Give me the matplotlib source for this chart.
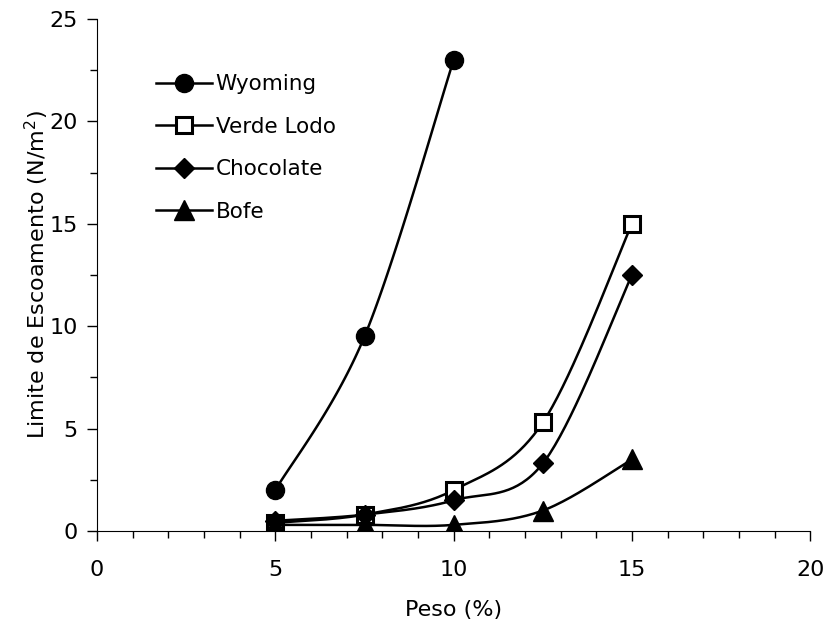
import numpy as np
import matplotlib
matplotlib.use("Agg")
import matplotlib.pyplot as plt
from matplotlib.ticker import MultipleLocator

peso = [5, 7.5, 10, 12.5, 15]
wyoming_x = [5, 7.5, 10]
wyoming = [2.0, 9.5, 23.0]
verde_lodo = [0.4, 0.8, 2.0, 5.3, 15.0]
chocolate = [0.5, 0.8, 1.5, 3.3, 12.5]
bofe = [0.3, 0.3, 0.3, 1.0, 3.5]

labels = ["Wyoming", "Verde Lodo", "Chocolate", "Bofe"]


def smooth(x, y, n=40):
    x = np.asarray(x, float)
    y = np.asarray(y, float)
    P = np.column_stack([x, y])
    P = np.vstack([P[0], P, P[-1]])
    out = []
    for i in range(1, len(P) - 2):
        p0, p1, p2, p3 = P[i - 1], P[i], P[i + 1], P[i + 2]
        c1 = p1 + (p2 - p0) / 6.0
        c2 = p2 - (p3 - p1) / 6.0
        t = np.linspace(0, 1, n)[:, None]
        seg = ((1 - t) ** 3) * p1 + 3 * ((1 - t) ** 2) * t * c1 + 3 * (1 - t) * t ** 2 * c2 + t ** 3 * p2
        out.append(seg if i == 1 else seg[1:])
    s = np.vstack(out)
    return s[:, 0], s[:, 1]


plt.rcParams['font.family'] = ['DejaVu Sans']
fig = plt.figure(figsize=(8.25, 6.24), dpi=100)
ax = fig.add_axes([0.1176, 0.149, 0.8646, 0.8206])

series = [
    (wyoming_x, wyoming, dict(marker='o', mfc='black', ms=13)),
    (peso, verde_lodo, dict(marker='s', mfc='white', ms=12, mew=2.2)),
    (peso, chocolate, dict(marker='D', mfc='black', ms=10)),
    (peso, bofe, dict(marker='^', mfc='black', ms=14)),
]
handles = []
for (x, y, st), lab in zip(series, labels):
    sx, sy = smooth(x, y)
    ax.plot(sx, sy, color='black', lw=1.8, zorder=2)
    ax.plot(x, y, ls='none', color='black', mec='black', zorder=3, **st)
    h, = ax.plot([], [], color='black', lw=1.8, mec='black', label=lab, **st)
    handles.append(h)

ax.set_xlim(0, 20)
ax.set_ylim(0, 25)
ax.xaxis.set_major_locator(MultipleLocator(5))
ax.xaxis.set_minor_locator(MultipleLocator(1))
ax.yaxis.set_major_locator(MultipleLocator(5))
ax.yaxis.set_minor_locator(MultipleLocator(2.5))
for s in ['top', 'right']:
    ax.spines[s].set_visible(False)
ax.tick_params(which='major', direction='out', length=7, width=1, labelsize=16, pad=7)
ax.tick_params(axis='x', which='major', pad=14)
ax.tick_params(which='minor', direction='out', length=5, width=1)
ax.set_xlabel('Peso (%)', fontsize=16, labelpad=14)
ax.set_ylabel('Limite de Escoamento (N/m$^2$)', fontsize=16, labelpad=-1)

ax.legend(handles=handles, loc='upper left', bbox_to_anchor=(0.065, 0.917), frameon=False,
          fontsize=15.5, handlelength=2.6, handletextpad=0.15, labelspacing=1.04,
          borderaxespad=0.2)

fig.savefig('out.png', dpi=100)
